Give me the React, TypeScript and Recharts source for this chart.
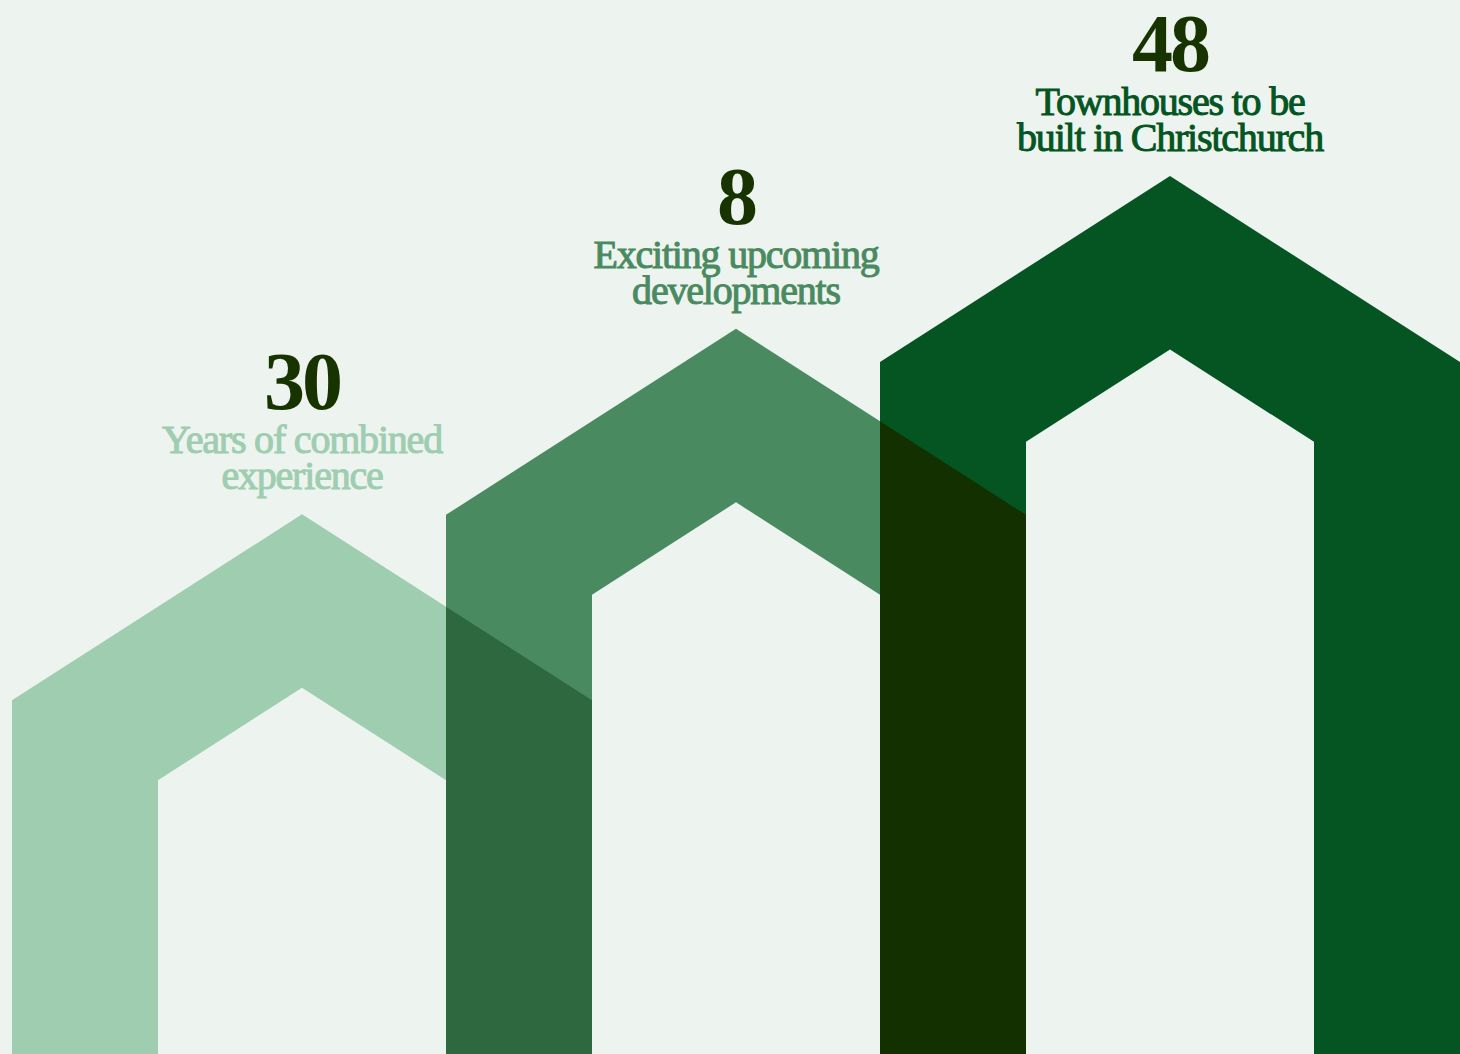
import React from 'react';
import { BarChart, Bar, XAxis, YAxis } from 'recharts';

// step height of each house peak, in % of chart height
const categories = ['experience', 'developments', 'townhouses'];
const peakLevels = [51.2, 68.8, 83.3];
const figures = ['30', '8', '48'];
const captionTop = ['Years of combined', 'Exciting upcoming', 'Townhouses to be'];
const captionBottom = ['experience', 'developments', 'built in Christchurch'];

const houseColors = ['#9ecdb0', '#4a8a60', '#045522'];
const overlapColors = ['', '#2e683e', '#133100'];
const captionColors = ['#9ecdb0', '#4a8a60', '#045522'];
const figureColor = '#163300';
const bg = '#edf3ef';

const W = 1460;
const H = 1054;
const HALF = 290;
const WALL = 146;
const SLOPE = 186 / 290;

const data = categories.map((c, i) => ({ name: c, level: peakLevels[i] }));

function House(props: any) {
  const { x, y, width, height, index } = props;
  const cx = x + width / 2;
  const bottom = y + height;
  const peak = y;
  const inner = HALF - WALL;
  const rise = HALF * SLOPE;
  const innerPeak = peak + WALL / Math.cos(Math.atan(SLOPE));
  const pts = [
    [cx - HALF, bottom],
    [cx - HALF, peak + rise],
    [cx, peak],
    [cx + HALF, peak + rise],
    [cx + HALF, bottom],
    [cx + inner, bottom],
    [cx + inner, innerPeak + inner * SLOPE],
    [cx, innerPeak],
    [cx - inner, innerPeak + inner * SLOPE],
    [cx - inner, bottom],
  ];

  // darker patch where this house's left wall crosses the previous house
  let overlap = null;
  if (index > 0) {
    const perUnit = height / peakLevels[index];
    const prevPeak = bottom - peakLevels[index - 1] * perUnit;
    const prevCx = cx - width;
    const left = cx - HALF;
    const right = prevCx + HALF;
    const ov = [
      [left, prevPeak + (left - prevCx) * SLOPE],
      [right, prevPeak + rise],
      [right, bottom],
      [left, bottom],
    ];
    overlap = <polygon points={ov.map(p => p.join(',')).join(' ')} fill={overlapColors[index]} />;
  }

  const font = "'Liberation Serif', 'DejaVu Serif', serif";
  const caption = {
    textAnchor: 'middle' as const,
    fontFamily: font,
    fontSize: 40,
    fill: captionColors[index],
    stroke: captionColors[index],
    strokeWidth: 1,
    style: { letterSpacing: -1.2 },
  };
  return (
    <g>
      <polygon points={pts.map(p => p.join(',')).join(' ')} fill={houseColors[index]} />
      {overlap}
      <text x={cx} y={peak - 105} textAnchor="middle" fontFamily={font} fontSize={82}
        fontWeight={700} fill={figureColor} style={{ letterSpacing: -3 }}>
        {figures[index]}
      </text>
      <text x={cx} y={peak - 61} {...caption}>{captionTop[index]}</text>
      <text x={cx} y={peak - 25} {...caption}>{captionBottom[index]}</text>
    </g>
  );
}

function App() {
  return (
    <div style={{ position: 'absolute', left: 0, top: 0, width: W, height: H, background: bg, overflow: 'hidden' }}>
      <BarChart width={W} height={H} data={data} barCategoryGap={0}
        margin={{ top: 0, right: 73, bottom: 0, left: 85 }}>
        <XAxis dataKey="name" hide />
        <YAxis domain={[0, 100]} hide />
        <Bar dataKey="level" shape={House} isAnimationActive={false} />
      </BarChart>
    </div>
  );
}

export default App;
